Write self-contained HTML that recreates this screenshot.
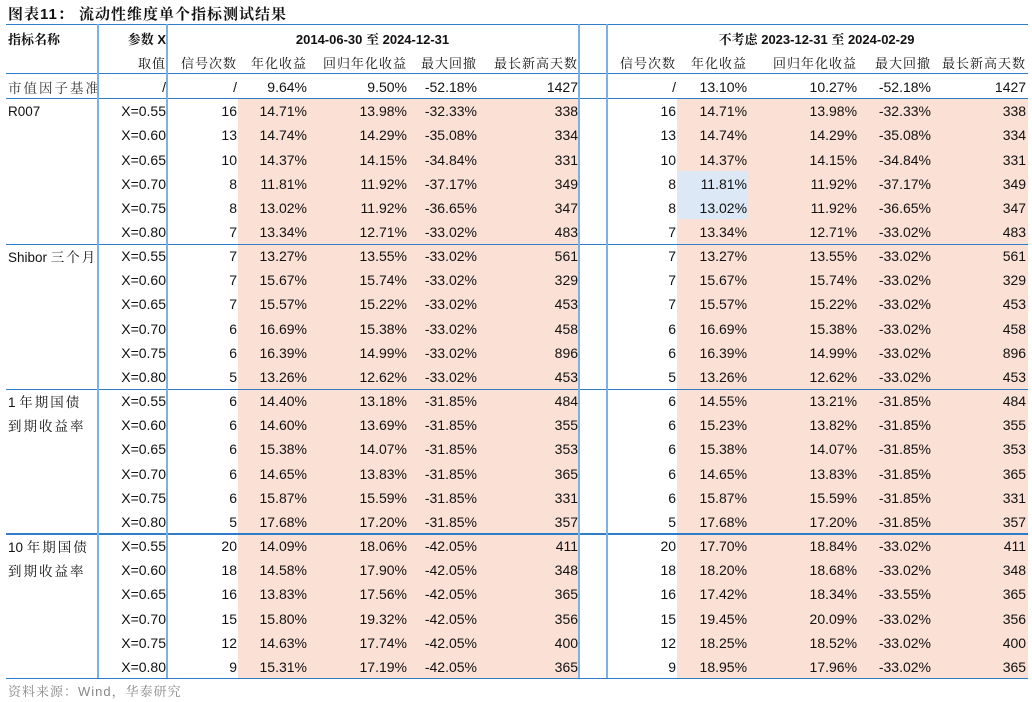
<!DOCTYPE html>
<html><head><meta charset="utf-8"><style>
body{margin:0;width:1032px;height:702px;background:#fff;position:relative;overflow:hidden;font-family:"Liberation Sans","Noto Sans CJK SC",sans-serif;color:#111}
.t{position:absolute;left:8px;top:3px;font:bold 15px "Liberation Sans","Noto Serif CJK SC",serif;letter-spacing:1px}
table{position:absolute;left:0;top:26px;border-collapse:collapse;table-layout:fixed;width:1027px}
td{padding:0 1px 0 0;font-size:14px;text-align:right;white-space:nowrap;overflow:visible}
tr.h td{height:24.5px;font-family:"Liberation Sans","Noto Serif CJK SC",serif;font-size:13px;letter-spacing:1px}
tr.h td.b{font-weight:bold;letter-spacing:0}
tr.r td{height:24.17px}
td.n{text-align:left;padding-left:8px;font-family:"Liberation Sans","Noto Serif CJK SC",serif;font-size:13.5px}
.c{letter-spacing:2px}
.p{background:#fbe1d5}.q{background:#dce8f6}
.bg{position:absolute;background:#fbe1d5}
.hl{position:absolute;height:1.5px;background:#2f7cc8}
.vl{position:absolute;width:2px;background:#7ab2e6;top:24px;height:654px}
.src{position:absolute;left:8px;top:681px;font:13px "Liberation Sans","Noto Serif CJK SC",serif;color:#888;letter-spacing:1px}
</style></head><body>
<div class="t">图表11：&nbsp;流动性维度单个指标测试结果</div>
<div class="bg" style="left:238px;top:98px;width:341px;height:580px"></div>
<div class="bg" style="left:677px;top:98px;width:351px;height:580px"></div>
<div style="position:absolute;left:677px;top:171px;width:71px;height:48px;background:#dce8f6"></div>
<table>
<colgroup><col style="width:98px"><col style="width:69px"><col style="width:71px"><col style="width:70px"><col style="width:100px"><col style="width:70px"><col style="width:101px"><col style="width:28px"><col style="width:70px"><col style="width:71px"><col style="width:110px"><col style="width:74px"><col style="width:95px"></colgroup>
<tr class="h"><td class="n b c">指标名称</td><td class="b">参数 X</td><td colspan="5" class="b" style="text-align:center">2014-06-30 至 2024-12-31</td><td></td><td colspan="5" class="b" style="text-align:center">不考虑 2023-12-31 至 2024-02-29</td></tr>
<tr class="h"><td></td><td>取值</td><td>信号次数</td><td>年化收益</td><td>回归年化收益</td><td>最大回撤</td><td>最长新高天数</td><td></td><td>信号次数</td><td>年化收益</td><td>回归年化收益</td><td>最大回撤</td><td>最长新高天数</td></tr>
<tr class="r"><td class="n c" style="color:#333">市值因子基准</td><td>/</td><td>/</td><td>9.64%</td><td>9.50%</td><td>-52.18%</td><td>1427</td><td></td><td>/</td><td>13.10%</td><td>10.27%</td><td>-52.18%</td><td>1427</td></tr>
<tr class="r"><td class="n">R007</td><td>X=0.55</td><td>16</td><td>14.71%</td><td>13.98%</td><td>-32.33%</td><td>338</td><td></td><td>16</td><td>14.71%</td><td>13.98%</td><td>-32.33%</td><td>338</td></tr>
<tr class="r"><td></td><td>X=0.60</td><td>13</td><td>14.74%</td><td>14.29%</td><td>-35.08%</td><td>334</td><td></td><td>13</td><td>14.74%</td><td>14.29%</td><td>-35.08%</td><td>334</td></tr>
<tr class="r"><td></td><td>X=0.65</td><td>10</td><td>14.37%</td><td>14.15%</td><td>-34.84%</td><td>331</td><td></td><td>10</td><td>14.37%</td><td>14.15%</td><td>-34.84%</td><td>331</td></tr>
<tr class="r"><td></td><td>X=0.70</td><td>8</td><td>11.81%</td><td>11.92%</td><td>-37.17%</td><td>349</td><td></td><td>8</td><td>11.81%</td><td>11.92%</td><td>-37.17%</td><td>349</td></tr>
<tr class="r"><td></td><td>X=0.75</td><td>8</td><td>13.02%</td><td>11.92%</td><td>-36.65%</td><td>347</td><td></td><td>8</td><td>13.02%</td><td>11.92%</td><td>-36.65%</td><td>347</td></tr>
<tr class="r"><td></td><td>X=0.80</td><td>7</td><td>13.34%</td><td>12.71%</td><td>-33.02%</td><td>483</td><td></td><td>7</td><td>13.34%</td><td>12.71%</td><td>-33.02%</td><td>483</td></tr>
<tr class="r"><td class="n">Shibor <span class="c">三个月</span></td><td>X=0.55</td><td>7</td><td>13.27%</td><td>13.55%</td><td>-33.02%</td><td>561</td><td></td><td>7</td><td>13.27%</td><td>13.55%</td><td>-33.02%</td><td>561</td></tr>
<tr class="r"><td></td><td>X=0.60</td><td>7</td><td>15.67%</td><td>15.74%</td><td>-33.02%</td><td>329</td><td></td><td>7</td><td>15.67%</td><td>15.74%</td><td>-33.02%</td><td>329</td></tr>
<tr class="r"><td></td><td>X=0.65</td><td>7</td><td>15.57%</td><td>15.22%</td><td>-33.02%</td><td>453</td><td></td><td>7</td><td>15.57%</td><td>15.22%</td><td>-33.02%</td><td>453</td></tr>
<tr class="r"><td></td><td>X=0.70</td><td>6</td><td>16.69%</td><td>15.38%</td><td>-33.02%</td><td>458</td><td></td><td>6</td><td>16.69%</td><td>15.38%</td><td>-33.02%</td><td>458</td></tr>
<tr class="r"><td></td><td>X=0.75</td><td>6</td><td>16.39%</td><td>14.99%</td><td>-33.02%</td><td>896</td><td></td><td>6</td><td>16.39%</td><td>14.99%</td><td>-33.02%</td><td>896</td></tr>
<tr class="r"><td></td><td>X=0.80</td><td>5</td><td>13.26%</td><td>12.62%</td><td>-33.02%</td><td>453</td><td></td><td>5</td><td>13.26%</td><td>12.62%</td><td>-33.02%</td><td>453</td></tr>
<tr class="r"><td class="n">1 <span class="c">年期国债</span></td><td>X=0.55</td><td>6</td><td>14.40%</td><td>13.18%</td><td>-31.85%</td><td>484</td><td></td><td>6</td><td>14.55%</td><td>13.21%</td><td>-31.85%</td><td>484</td></tr>
<tr class="r"><td class="n c">到期收益率</td><td>X=0.60</td><td>6</td><td>14.60%</td><td>13.69%</td><td>-31.85%</td><td>355</td><td></td><td>6</td><td>15.23%</td><td>13.82%</td><td>-31.85%</td><td>355</td></tr>
<tr class="r"><td></td><td>X=0.65</td><td>6</td><td>15.38%</td><td>14.07%</td><td>-31.85%</td><td>353</td><td></td><td>6</td><td>15.38%</td><td>14.07%</td><td>-31.85%</td><td>353</td></tr>
<tr class="r"><td></td><td>X=0.70</td><td>6</td><td>14.65%</td><td>13.83%</td><td>-31.85%</td><td>365</td><td></td><td>6</td><td>14.65%</td><td>13.83%</td><td>-31.85%</td><td>365</td></tr>
<tr class="r"><td></td><td>X=0.75</td><td>6</td><td>15.87%</td><td>15.59%</td><td>-31.85%</td><td>331</td><td></td><td>6</td><td>15.87%</td><td>15.59%</td><td>-31.85%</td><td>331</td></tr>
<tr class="r"><td></td><td>X=0.80</td><td>5</td><td>17.68%</td><td>17.20%</td><td>-31.85%</td><td>357</td><td></td><td>5</td><td>17.68%</td><td>17.20%</td><td>-31.85%</td><td>357</td></tr>
<tr class="r"><td class="n">10 <span class="c">年期国债</span></td><td>X=0.55</td><td>20</td><td>14.09%</td><td>18.06%</td><td>-42.05%</td><td>411</td><td></td><td>20</td><td>17.70%</td><td>18.84%</td><td>-33.02%</td><td>411</td></tr>
<tr class="r"><td class="n c">到期收益率</td><td>X=0.60</td><td>18</td><td>14.58%</td><td>17.90%</td><td>-42.05%</td><td>348</td><td></td><td>18</td><td>18.20%</td><td>18.68%</td><td>-33.02%</td><td>348</td></tr>
<tr class="r"><td></td><td>X=0.65</td><td>16</td><td>13.83%</td><td>17.56%</td><td>-42.05%</td><td>365</td><td></td><td>16</td><td>17.42%</td><td>18.34%</td><td>-33.55%</td><td>365</td></tr>
<tr class="r"><td></td><td>X=0.70</td><td>15</td><td>15.80%</td><td>19.32%</td><td>-42.05%</td><td>356</td><td></td><td>15</td><td>19.45%</td><td>20.09%</td><td>-33.02%</td><td>356</td></tr>
<tr class="r"><td></td><td>X=0.75</td><td>12</td><td>14.63%</td><td>17.74%</td><td>-42.05%</td><td>400</td><td></td><td>12</td><td>18.25%</td><td>18.52%</td><td>-33.02%</td><td>400</td></tr>
<tr class="r"><td></td><td>X=0.80</td><td>9</td><td>15.31%</td><td>17.19%</td><td>-42.05%</td><td>365</td><td></td><td>9</td><td>18.95%</td><td>17.96%</td><td>-33.02%</td><td>365</td></tr>
</table>
<div class="hl" style="left:6px;width:1022px;top:23.5px"></div>
<div class="hl" style="left:6px;width:1022px;top:72.5px"></div>
<div class="hl" style="left:6px;width:1022px;top:97.5px"></div>
<div class="hl" style="left:6px;width:1022px;top:243.5px"></div>
<div class="hl" style="left:6px;width:1022px;top:388.5px"></div>
<div class="hl" style="left:6px;width:1022px;top:533px"></div>
<div class="hl" style="left:6px;width:1022px;top:677.5px"></div>
<div class="vl" style="left:97px"></div>
<div class="vl" style="left:166px"></div>
<div class="vl" style="left:578px"></div>
<div class="vl" style="left:606px"></div>
<div class="src">资料来源：Wind，华泰研究</div>
</body></html>
